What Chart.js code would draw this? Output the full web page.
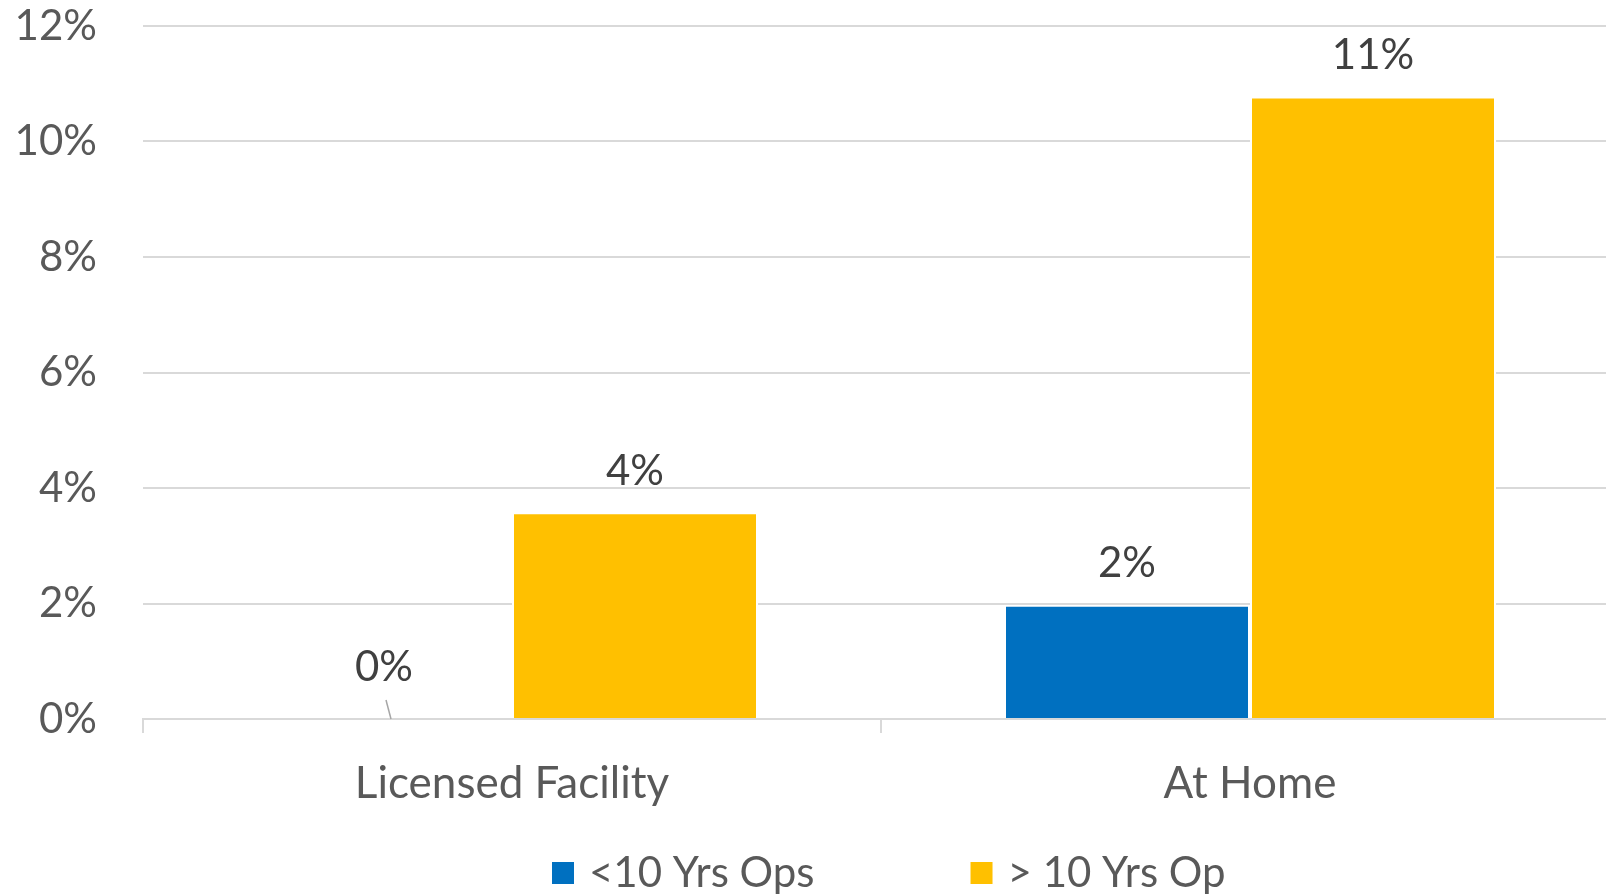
<!DOCTYPE html>
<html lang="en">
<head>
  <meta charset="UTF-8" />
  <title>Yrs Ops chart</title>
  <script src="https://cdn.jsdelivr.net/npm/chart.js"></script>
  <style>
    body {
      margin: 0;
      padding: 0;
      background-color: #ffffff;
      overflow: hidden;
    }

    /* the original plot runs a bit past the right edge, so the canvas is wider and clipped */
    .wrap {
      width: 1606px;
      height: 895px;
      overflow: hidden;
    }
  </style>
</head>
<body>
  <div class="wrap">
    <canvas id="opsChart" width="1619" height="895"></canvas>
  </div>

  <script>
    const categories = ["Licensed Facility", "At Home"];
    const seriesNames = ["<10 Yrs Ops", "> 10 Yrs Op"];
    const underTen = [0, 1.98];
    const overTen = [3.58, 10.78];
    const yTicks = [0, 2, 4, 6, 8, 10, 12];

    const fontFamily = "Lato, 'Open Sans', sans-serif";
    const axisGrey = "#595959";
    const labelDark = "#404040";
    const gridGrey = "#d9d9d9";

    // value labels above bars, the zero one gets a little leader line
    const valueLabels = {
      id: "valueLabels",
      afterDatasetsDraw(chart) {
        const ctx = chart.ctx;
        ctx.save();
        ctx.font = "42px " + fontFamily;
        ctx.fillStyle = labelDark;
        ctx.textAlign = "center";
        ctx.textBaseline = "middle";
        chart.data.datasets.forEach((ds, di) => {
          const meta = chart.getDatasetMeta(di);
          meta.data.forEach((bar, i) => {
            const v = ds.data[i];
            const txt = Math.round(v) + "%";
            if (v === 0) {
              ctx.fillText(txt, bar.x - 5, bar.y - 52);
              ctx.strokeStyle = "#a6a6a6";
              ctx.lineWidth = 1.5;
              ctx.beginPath();
              ctx.moveTo(bar.x - 3, bar.y - 19);
              ctx.lineTo(bar.x + 2, bar.y);
              ctx.stroke();
            } else {
              ctx.fillText(txt, bar.x, bar.y - 41);
            }
          });
        });
        ctx.restore();
      }
    };

    // legend row at the bottom, spaced wide like the original
    const legendRow = {
      id: "legendRow",
      afterDraw(chart) {
        const ctx = chart.ctx;
        const cy = 873;
        let x = 552;
        ctx.save();
        ctx.font = "42px " + fontFamily;
        ctx.textBaseline = "middle";
        ctx.textAlign = "left";
        chart.data.datasets.forEach(ds => {
          ctx.fillStyle = ds.backgroundColor;
          ctx.fillRect(x, cy - 11, 22, 22);
          ctx.fillStyle = axisGrey;
          ctx.fillText(ds.label, x + 37, cy);
          x += 37 + ctx.measureText(ds.label).width + 156;
        });
        ctx.restore();
      }
    };

    const ctx = document.getElementById("opsChart").getContext("2d");

    new Chart(ctx, {
      type: "bar",
      data: {
        labels: categories,
        datasets: [
          {
            label: seriesNames[0],
            data: underTen,
            backgroundColor: "#0070c0",
            borderColor: "#ffffff",
            borderWidth: 2,
            categoryPercentage: 2 / 3,
            barPercentage: 1
          },
          {
            label: seriesNames[1],
            data: overTen,
            backgroundColor: "#ffc000",
            borderColor: "#ffffff",
            borderWidth: 2,
            categoryPercentage: 2 / 3,
            barPercentage: 1
          }
        ]
      },
      options: {
        responsive: false,
        animation: false,
        layout: {
          padding: { top: 26, right: 0, bottom: 0, left: 0 }
        },
        plugins: {
          legend: { display: false },
          tooltip: { enabled: false }
        },
        scales: {
          x: {
            afterFit(scale) {
              scale.height = 176;
            },
            grid: {
              display: true,
              drawOnChartArea: false,
              drawTicks: true,
              tickLength: 14,
              offset: true,
              color: gridGrey,
              lineWidth: 2
            },
            border: { display: true, color: gridGrey, width: 2 },
            ticks: {
              font: { family: fontFamily, size: 44 },
              color: axisGrey,
              padding: 24,
              maxRotation: 0
            }
          },
          y: {
            min: 0,
            max: 12,
            afterBuildTicks(scale) {
              scale.ticks = yTicks.map(v => ({ value: v }));
            },
            afterFit(scale) {
              scale.width = 143;
              scale.paddingTop = 0;
              scale.paddingBottom = 0;
            },
            grid: {
              color: gridGrey,
              lineWidth: 2,
              drawTicks: false
            },
            border: { display: false },
            ticks: {
              font: { family: fontFamily, size: 42 },
              color: axisGrey,
              padding: 46,
              callback: v => v + "%"
            }
          }
        }
      },
      plugins: [valueLabels, legendRow]
    });
  </script>
</body>
</html>
